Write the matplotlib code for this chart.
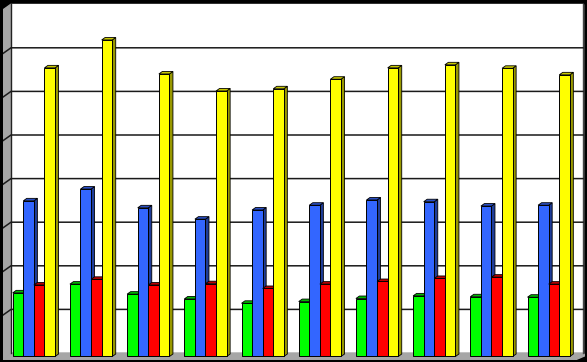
import matplotlib.pyplot as plt
import numpy as np

# values (10 groups, 4 series)
green = [1.38, 1.58, 1.35, 1.24, 1.14, 1.18, 1.25, 1.31, 1.29, 1.28]
blue = [3.49, 3.76, 3.33, 3.07, 3.28, 3.39, 3.51, 3.47, 3.37, 3.39]
red = [1.56, 1.69, 1.56, 1.59, 1.48, 1.58, 1.64, 1.71, 1.74, 1.58]
yellow = [6.54, 7.18, 6.40, 6.01, 6.06, 6.28, 6.54, 6.61, 6.53, 6.38]

series = [green, blue, red, yellow]
fronts = ["#00ff00", "#3366ff", "#ff0000", "#ffff00"]
sides = ["#009900", "#1f3d99", "#990000", "#999900"]
tops = ["#00bb00", "#2a4fc4", "#bb0000", "#c8c800"]

W, H = 587, 362
fig = plt.figure(figsize=(W / 100, H / 100), dpi=100, facecolor="black")
# axes in pixel terms: x 3..585, y 3..360 (from top)
ax = fig.add_axes([3 / W, 2 / H, 582 / W, 357 / H])
ax.set_facecolor("black")
ax.set_xlim(-8 / 57.2, (585 - 11) / 57.2)
ax.set_ylim(-(360 - 353) / 43.6, (353 - 3) / 43.6)
ax.axis("off")

n = len(green)
ymax = 8.0
wx, wy = -0.14, -0.13  # left wall depth offset

# back wall, left wall and floor
ax.fill([0, n, n, 0], [0, 0, ymax, ymax], color="white", zorder=0)
ax.fill([wx, 0, 0, wx], [ymax + wy, ymax, 0, -0.16], color="#a6a6a6", zorder=0)
ax.fill([wx, 0, n, n + 0.04, n - 0.14], [-0.16, 0, 0, -0.06, -0.16],
        color="#a6a6a6", zorder=0)
ax.plot([0, 0], [0, ymax], color="#222222", lw=1, zorder=1)
ax.plot([n, n], [0, ymax], color="#444444", lw=1, zorder=1)

# gridlines on the back wall and left wall
for k in range(1, 8):
    ax.plot([wx, 0, n], [k + wy, k, k], color="#1a1a1a", lw=1.1, zorder=1)

# 3d-ish bars
w = 0.185
dx, dy = 0.061, 0.057
base = -0.08
for i in range(n):
    for j, vals in enumerate(series):
        v = vals[i]
        x0 = i + 0.03 + j * w
        z = 2 + j * 0.1
        ax.fill([x0 + w, x0 + w + dx, x0 + w + dx, x0 + w],
                [base, base + dy, v + dy, v],
                facecolor=sides[j], edgecolor="black", lw=0.6, zorder=z)
        ax.fill([x0, x0 + w, x0 + w + dx, x0 + dx],
                [v, v, v + dy, v + dy],
                facecolor=tops[j], edgecolor="black", lw=0.6, zorder=z)
        ax.bar(x0, v - base, width=w, bottom=base, align="edge",
               color=fronts[j], edgecolor="black", lw=0.7, zorder=z + 0.05)

fig.savefig("out.png", dpi=100, facecolor="black")
